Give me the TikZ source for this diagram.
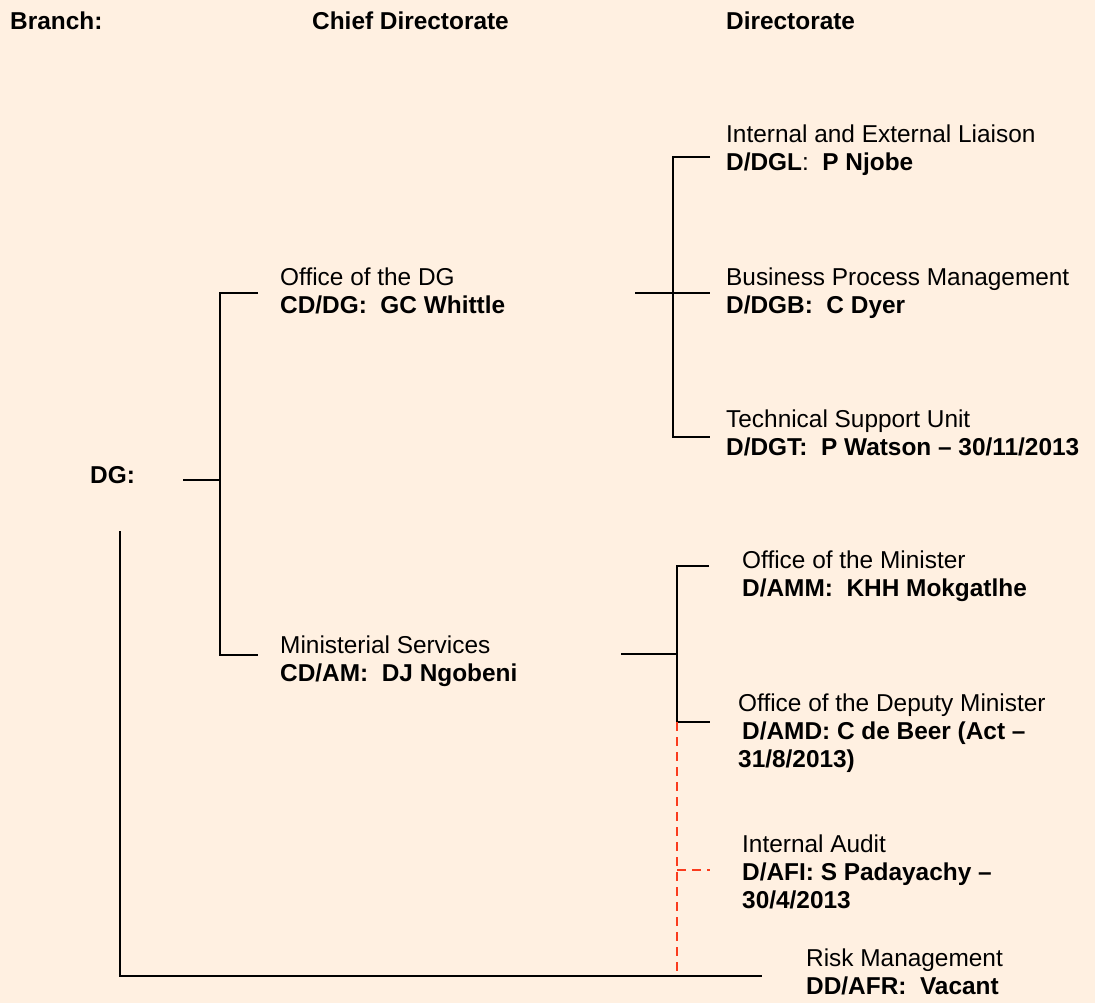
\documentclass[tikz,border=0pt]{standalone}
\usepackage{fontspec}
\setmainfont{Liberation Sans}
\definecolor{bgpeach}{RGB}{255,240,225}
\definecolor{auditred}{RGB}{250,60,30}

\begin{document}
\begin{tikzpicture}[x=1pt, y=-1pt]
  \tikzset{unit/.style={anchor=base west, align=left, inner sep=0pt,
                        font=\fontsize{24.4}{28}\selectfont},
           heading/.style={unit, font=\fontsize{24.4}{28}\selectfont\bfseries},
           link/.style={line width=1.3pt, black},
           dotlink/.style={line width=1.3pt, auditred, dash pattern=on 9pt off 6pt}}
  \fill[bgpeach] (0,0) rectangle (1095,1003);
  \node[heading] (branchhd) at (10,30) {Branch:};
  \node[heading] (chiefhd) at (312,30) {Chief Directorate};
  \node[heading] (dirhd) at (726,30) {Directorate};
  \node[heading] (dg) at (90,483) {DG:};
  \node[unit] (odg) at (280,313) {Office of the DG\\\textbf{CD/DG:\ \ GC Whittle}};
  \node[unit] (mins) at (280,681) {Ministerial Services\\\textbf{CD/AM:\ \ DJ Ngobeni}};
  \node[unit] (dgl) at (726,171) {Internal and External Liaison\\\textbf{D/DGL}:\ \ \textbf{P Njobe}};
  \node[unit] (dgb) at (726,313) {Business Process Management\\\textbf{D/DGB:\ \ C Dyer}};
  \node[unit] (dgt) at (726,455) {Technical Support Unit\\\textbf{D/DGT:\ \ P Watson -- 30/11/2013}};
  \node[unit] (amm) at (742,596) {Office of the Minister\\\textbf{D/AMM:\ \ KHH Mokgatlhe}};
  \node[unit] (amd) at (738,767) {Office of the Deputy Minister\\\hspace{4pt}\textbf{D/AMD: C de Beer (Act --}\\\textbf{31/8/2013)}};
  \node[unit] (afi) at (742,908) {Internal Audit\\\textbf{D/AFI: S Padayachy --}\\\textbf{30/4/2013}};
  \node[unit] (afr) at (806,994) {Risk Management\\\textbf{DD/AFR:\ \ Vacant}};
  \coordinate (dgout) at (183,480);
  \coordinate (cdbar) at (220,480);
  \coordinate (odgin) at (258,293);
  \coordinate (minsin) at (258,655);
  \coordinate (odgout) at (635,293);
  \coordinate (dgbar) at (673,293);
  \coordinate (dglin) at (710,157);
  \coordinate (dgbin) at (710,293);
  \coordinate (dgtin) at (710,437);
  \coordinate (minsout) at (621,654);
  \coordinate (ambar) at (677,654);
  \coordinate (ammin) at (709,566);
  \coordinate (amdin) at (710,722);
  \coordinate (afiin) at (710,870);
  \coordinate (dgdown) at (120,531);
  \coordinate (afrin) at (762,976);
  \draw[link] (dgout) -- (cdbar);
  \draw[link] (odgin) -| (cdbar) |- (minsin);
  \draw[link] (odgout) -- (dgbin);
  \draw[link] (dglin) -| (dgbar) |- (dgtin);
  \draw[link] (minsout) -- (ambar);
  \draw[link] (ammin) -| (ambar) |- (amdin);
  \draw[link] (dgdown) |- (afrin);
  \draw[dotlink] (amdin -| ambar) -- (afrin -| ambar);
  \draw[dotlink] (afiin -| ambar) -- (afiin);
\end{tikzpicture}
\end{document}
